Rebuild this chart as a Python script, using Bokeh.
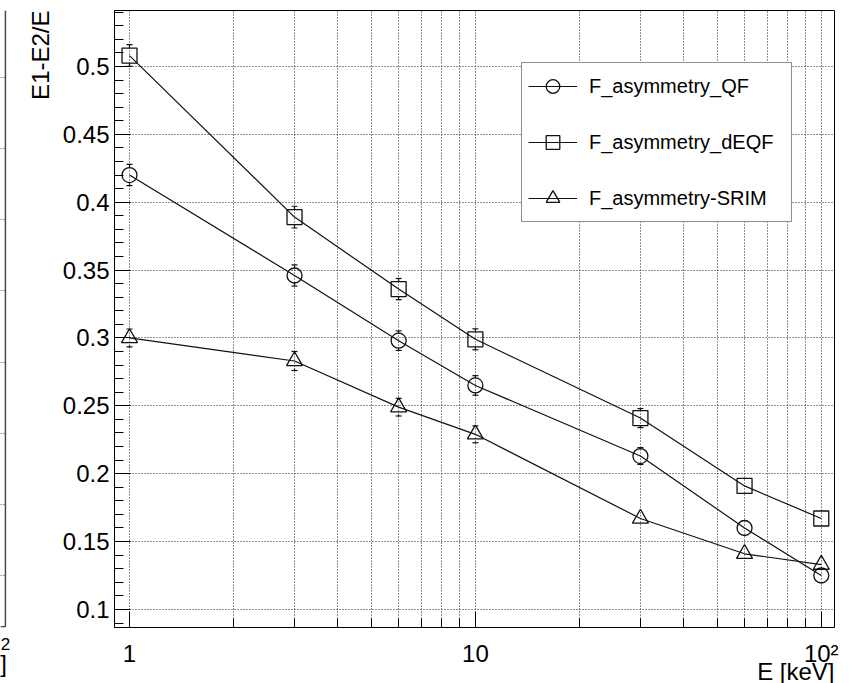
import numpy as np
from bokeh.plotting import figure
from bokeh.models import Range1d, FixedTicker, Legend, LegendItem, Title
from bokeh.layouts import row
from bokeh.embed import file_html
from bokeh.resources import INLINE

# Recoil energy points [keV]
energy = [1, 3, 6, 10, 30, 60, 100]

# Asymmetry (E1-E2)/E for three quenching models
asym_qf = [0.420, 0.346, 0.298, 0.265, 0.213, 0.160, 0.125]
asym_qf_err = [0.0078, 0.0078, 0.0072, 0.0072, 0.0062, 0.004, 0.004]

asym_deqf = [0.508, 0.389, 0.336, 0.299, 0.241, 0.191, 0.167]
asym_deqf_err = [0.0080, 0.0080, 0.0078, 0.0077, 0.0070, 0.004, 0.004]

asym_srim = [0.300, 0.283, 0.249, 0.229, 0.167, 0.141, 0.133]
asym_srim_err = [0.0066, 0.0070, 0.0065, 0.0062, 0.0050, 0.004, 0.004]

series_names = ["F_asymmetry_QF", "F_asymmetry_dEQF", "F_asymmetry-SRIM"]

# Axis ticks and labels
x_major = [1, 10, 100]
x_labels = ["1", "10", "10\u00b2"]
y_major = [0.1, 0.15, 0.2, 0.25, 0.3, 0.35, 0.4, 0.45, 0.5]
y_labels = ["0.1", "0.15", "0.2", "0.25", "0.3", "0.35", "0.4", "0.45", "0.5"]
x_title = "E [keV]"
y_title = "E1-E2/E"

FONT = "Liberation Sans"
INK = "#111111"

X_LO, X_HI = 0.905, 109.2
Y_LO, Y_HI = 0.0867, 0.5412
W, H = 834, 683
BL, BR, BT, BB = 94, 20, 10, 56
frame_h = H - BT - BB
y_per_px = (Y_HI - Y_LO) / frame_h

p = figure(width=W, height=H, title=None, x_axis_type="log",
           x_range=Range1d(X_LO, X_HI), y_range=Range1d(Y_LO, Y_HI),
           min_border_left=BL, min_border_right=BR,
           min_border_top=BT, min_border_bottom=BB,
           output_backend="svg", toolbar_location=None)
p.background_fill_color = "white"
p.border_fill_color = "white"
p.outline_line_color = "black"
p.outline_line_width = 1

x_minor = [m * 10 ** d for d in (0, 1) for m in range(2, 10)]
y_minor = list(np.round(np.arange(0.09, 0.545, 0.01), 2))

p.xaxis.ticker = FixedTicker(ticks=x_major, minor_ticks=x_minor)
p.xaxis.major_label_overrides = dict(zip(x_major, x_labels))
p.yaxis.ticker = FixedTicker(ticks=y_major, minor_ticks=y_minor)
p.yaxis.major_label_overrides = dict(zip(y_major, y_labels))

xa, ya = p.xaxis[0], p.yaxis[0]
for ax in (xa, ya):
    ax.axis_line_color = "black"
    ax.axis_line_width = 1
    ax.major_tick_in = 16
    ax.major_tick_out = 0
    ax.minor_tick_in = 9
    ax.minor_tick_out = 0
    ax.major_tick_line_color = "black"
    ax.minor_tick_line_color = "black"
    ax.major_label_text_font = FONT
    ax.major_label_text_font_size = "24px"
    ax.major_label_text_color = "black"
xa.major_label_standoff = 12
ya.major_label_standoff = 5

# axis titles, flush with the far end of each axis
p.add_layout(Title(text=x_title, align="right", vertical_align="bottom",
                   text_font=FONT, text_font_size="24px",
                   text_font_style="normal", text_color="black",
                   standoff=-28), "below")
p.add_layout(Title(text=y_title, align="right", vertical_align="top",
                   text_font=FONT, text_font_size="24px",
                   text_font_style="normal", text_color="black",
                   standoff=8), "left")

p.xgrid.ticker = FixedTicker(ticks=x_major + x_minor)
p.ygrid.ticker = FixedTicker(ticks=y_major)
for g in (p.xgrid[0], p.ygrid[0]):
    g.grid_line_color = "#222222"
    g.grid_line_dash = "1 2"
    g.grid_line_width = 1

markers = ["circle", "square", "triangle"]
sizes = [15, 15, 16]
values = [asym_qf, asym_deqf, asym_srim]
errors = [asym_qf_err, asym_deqf_err, asym_srim_err]

gap = 7.5 * y_per_px
items = []
for name, mk, sz, ys, es in zip(series_names, markers, sizes, values, errors):
    ln = p.line(energy, ys, line_color=INK, line_width=1.2)
    sc = p.scatter(energy, ys, marker=mk, size=sz, line_color=INK,
                   line_width=1.3, fill_color=None)
    # error bars drawn outside the hollow marker, with short caps
    x0, y0, y1, cx, cy = [], [], [], [], []
    for x, y, e in zip(energy, ys, es):
        if e > gap:
            x0 += [x, x]
            y0 += [y + gap, y - gap]
            y1 += [y + e, y - e]
            cx += [x, x]
            cy += [y + e, y - e]
    if x0:
        p.segment(x0=x0, y0=y0, x1=x0, y1=y1, line_color=INK, line_width=1.2)
        p.scatter(cx, cy, marker="dash", size=6, line_color=INK, line_width=1.2)
    items.append(LegendItem(label=name, renderers=[ln, sc]))

legend = Legend(items=items, location=(407, 405), orientation="vertical",
                border_line_color="#222222", border_line_width=1.5,
                background_fill_color="white", background_fill_alpha=1,
                label_text_font=FONT, label_text_font_size="20px",
                label_text_color="black",
                glyph_width=49, glyph_height=34, label_height=22,
                label_width=196, spacing=22, padding=6, label_standoff=12,
                margin=0)
p.add_layout(legend, "center")

# edge of the neighbouring pad on the left, with the ends of its axis texts
side_grid = list(range(1, 9))
s = figure(width=20, height=H, title=None,
           x_range=Range1d(0, 1.2), y_range=Range1d(8.731, 0.0582),
           min_border_left=0, min_border_right=14, min_border_top=BT,
           min_border_bottom=BB, x_axis_location="below", y_axis_location=None,
           output_backend="svg", toolbar_location=None)
s.outline_line_color = None
s.xgrid.visible = False
s.ygrid.ticker = FixedTicker(ticks=side_grid)
s.ygrid.grid_line_color = "#222222"
s.ygrid.grid_line_dash = "1 2"
s.segment(x0=[1, 0], y0=[0.0582, 8.72], x1=[1, 1], y1=[8.72, 8.72],
          line_color="#444444", line_width=1.6)
sx = s.xaxis[0]
sx.ticker = FixedTicker(ticks=[0.9], minor_ticks=[])
sx.major_label_overrides = {0.9: "2"}
sx.axis_line_color = None
sx.major_tick_line_color = None
sx.minor_tick_line_color = None
sx.major_tick_in = 0
sx.major_tick_out = 0
sx.major_label_standoff = 10
sx.major_label_text_font = FONT
sx.major_label_text_font_size = "17px"
sx.major_label_text_color = "black"
sx.axis_label = "]"
sx.axis_label_standoff = -3
sx.axis_label_text_font = FONT
sx.axis_label_text_font_size = "24px"
sx.axis_label_text_font_style = "normal"
sx.axis_label_text_color = "black"

layout = row(s, p, spacing=0)
open("out.html", "w").write(file_html(layout, INLINE))
